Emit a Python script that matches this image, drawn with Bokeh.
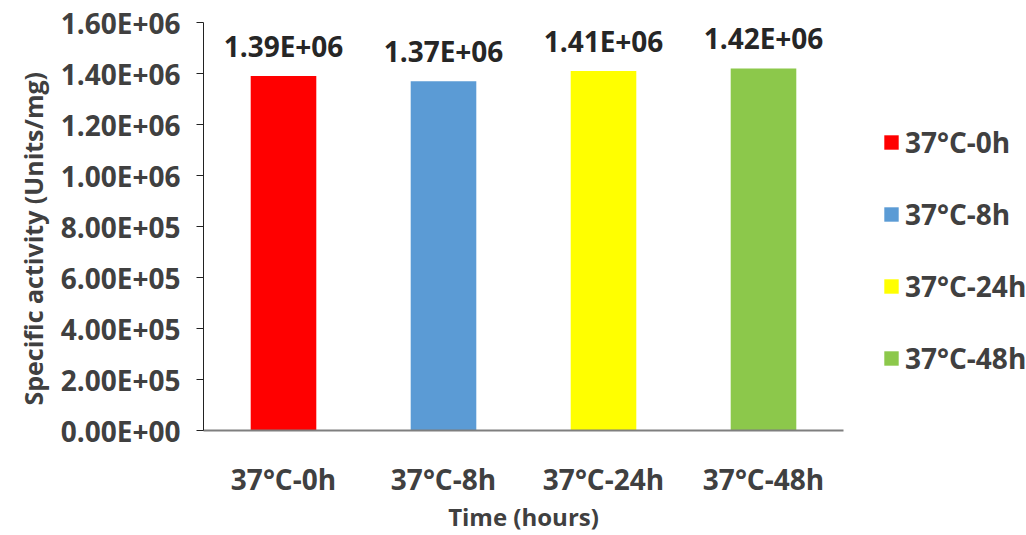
from bokeh.plotting import figure
from bokeh.models import ColumnDataSource, Legend, LegendItem, CustomJSTickFormatter, FixedTicker, Range1d, Title
from bokeh.embed import file_html
from bokeh.resources import INLINE
from bokeh.core.properties import value

categories = ["37°C-0h", "37°C-8h", "37°C-24h", "37°C-48h"]
activity = [1.39e6, 1.37e6, 1.41e6, 1.42e6]
colors = ["#FF0000", "#5B9BD5", "#FFFF00", "#8CC84B"]
y_ticks = [0, 2e5, 4e5, 6e5, 8e5, 1e6, 1.2e6, 1.4e6, 1.6e6]
y_title = "Specific activity (Units/mg)"
x_title = "Time (hours)"

def sci(v):
    m, e = ("%.2e" % v).split("e")
    e = int(e)
    return "%sE%s%02d" % (m, "-" if e < 0 else "+", abs(e))

labels = [sci(v) for v in activity]
xpos = [i + 0.5 for i in range(len(categories))]

FONT = "Open Sans"
FS = "28px"
TXT = "#404040"

# frame: x 203..1026 (160 px per category), y 22..535 with value 0 at 430
W, H = 1026, 535
LEFT, TOP, ZERO_Y = 203, 22, 430
BAND = 160
Y_MAX = 1.6e6
y_start = -Y_MAX * (H - ZERO_Y) / (ZERO_Y - TOP)
p = figure(width=W, height=H, x_range=Range1d(0, (W - LEFT) / BAND), y_range=Range1d(y_start, Y_MAX),
           output_backend="svg", toolbar_location=None,
           min_border_left=LEFT, min_border_top=TOP, min_border_bottom=0, min_border_right=0)
p.outline_line_color = None
p.grid.grid_line_color = None
p.background_fill_color = "white"
p.xaxis.visible = False

src = ColumnDataSource(dict(x=xpos, cat=categories, val=activity, lab=labels,
                            zero=[0] * len(categories)))
renderers = []
for i, c in enumerate(categories):
    s = ColumnDataSource(dict(x=[xpos[i]], val=[activity[i]]))
    r = p.vbar(x="x", top="val", width=0.41, source=s, fill_color=colors[i], line_color=None)
    renderers.append(r)

# value labels above bars
p.text(x="x", y="val", text="lab", source=src, text_align="center", text_baseline="alphabetic",
       y_offset=-30, text_font=value(FONT), text_font_style="bold", text_font_size=FS,
       text_color="#262626")

# category axis (drawn at y=0), starting slightly left of the value axis
p.segment(x0=-8 / BAND, y0=0, x1=len(categories), y1=0, line_color="#7f7f7f", line_width=2)
p.text(x="x", y="zero", text="cat", source=src, text_align="center", text_baseline="alphabetic",
       y_offset=48, text_font=value(FONT), text_font_style="bold", text_font_size=FS,
       text_color=TXT)
p.text(x=[len(categories) / 2], y=[0], text=[x_title], text_align="center", text_baseline="alphabetic",
       y_offset=86, text_font=value(FONT), text_font_style="bold", text_font_size="24px",
       text_color=TXT)

# y axis
p.yaxis.bounds = (0, Y_MAX)
p.yaxis.ticker = FixedTicker(ticks=y_ticks)
p.yaxis.formatter = CustomJSTickFormatter(code="""
const s = tick.toExponential(2).split('e');
const e = parseInt(s[1]);
return s[0] + 'E' + (e < 0 ? '-' : '+') + String(Math.abs(e)).padStart(2, '0');
""")
p.yaxis.major_tick_out = 7
p.yaxis.major_tick_in = 0
p.yaxis.minor_tick_line_color = None
p.yaxis.axis_line_color = "#222222"
p.yaxis.major_tick_line_color = "#222222"
p.yaxis.major_label_text_font = FONT
p.yaxis.major_label_text_font_style = "bold"
p.yaxis.major_label_text_font_size = FS
p.yaxis.major_label_text_color = TXT
p.yaxis.major_label_standoff = 16

yt = Title(text=y_title, align="left", offset=130, standoff=16,
           text_font=FONT, text_font_style="bold", text_font_size="25px", text_color=TXT)
p.add_layout(yt, "left")

legend = Legend(items=[LegendItem(label=c, renderers=[r]) for c, r in zip(categories, renderers)],
                location=(679, 158), spacing=34, padding=0, margin=0,
                glyph_width=18, glyph_height=18, label_standoff=5, label_height=34,
                label_text_font=FONT, label_text_font_style="bold", label_text_font_size=FS,
                label_text_color=TXT, border_line_color=None, background_fill_alpha=0)
p.add_layout(legend, "center")

open("out.html", "w").write(file_html(p, INLINE))
